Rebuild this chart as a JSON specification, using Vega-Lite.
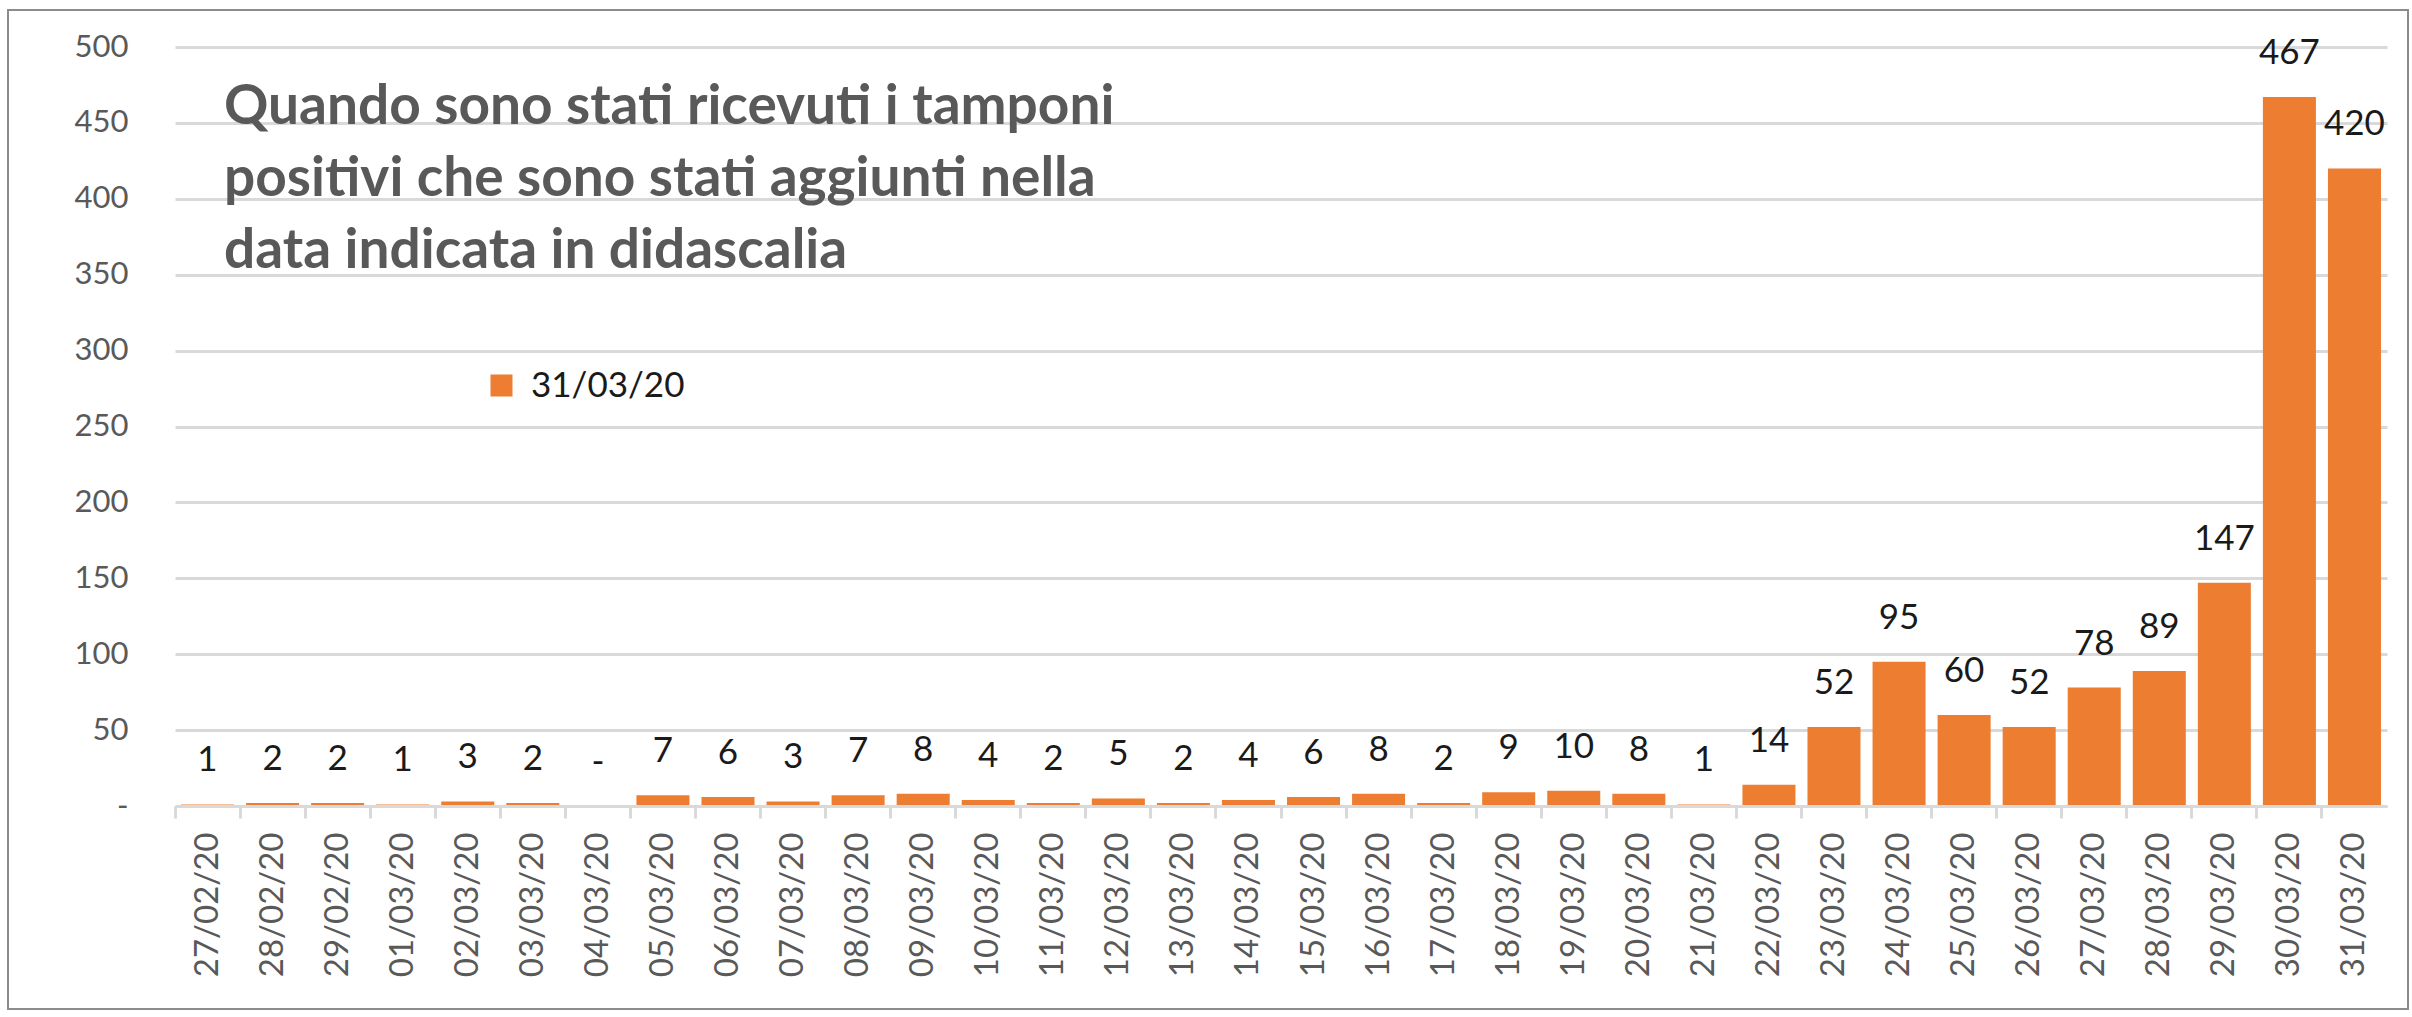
{
  "$schema": "https://vega.github.io/schema/vega-lite/v6.json",
  "width": 2400,
  "height": 999,
  "autosize": {"type": "none"},
  "padding": {"left": 8, "top": 10, "right": 4, "bottom": 8},
  "background": "white",
  "title": {
    "text": ["Quando sono stati ricevuti i tamponi", "positivi che sono stati aggiunti nella", "data indicata in didascalia"],
    "anchor": "start",
    "frame": "group",
    "orient": "top",
    "offset": 0,
    "baseline": "top",
    "dx": 216,
    "dy": 270,
    "font": "Lato",
    "fontWeight": "bold",
    "fontSize": 55,
    "lineHeight": 72,
    "color": "#595959"
  },
  "config": {
    "view": {"stroke": "#8c8c8c", "strokeWidth": 2},
    "font": "Lato"
  },
  "data": {
    "values": [
      {"data": "27/02/20", "valore": 1, "serie": "31/03/20"},
      {"data": "28/02/20", "valore": 2, "serie": "31/03/20"},
      {"data": "29/02/20", "valore": 2, "serie": "31/03/20"},
      {"data": "01/03/20", "valore": 1, "serie": "31/03/20"},
      {"data": "02/03/20", "valore": 3, "serie": "31/03/20"},
      {"data": "03/03/20", "valore": 2, "serie": "31/03/20"},
      {"data": "04/03/20", "valore": 0, "serie": "31/03/20"},
      {"data": "05/03/20", "valore": 7, "serie": "31/03/20"},
      {"data": "06/03/20", "valore": 6, "serie": "31/03/20"},
      {"data": "07/03/20", "valore": 3, "serie": "31/03/20"},
      {"data": "08/03/20", "valore": 7, "serie": "31/03/20"},
      {"data": "09/03/20", "valore": 8, "serie": "31/03/20"},
      {"data": "10/03/20", "valore": 4, "serie": "31/03/20"},
      {"data": "11/03/20", "valore": 2, "serie": "31/03/20"},
      {"data": "12/03/20", "valore": 5, "serie": "31/03/20"},
      {"data": "13/03/20", "valore": 2, "serie": "31/03/20"},
      {"data": "14/03/20", "valore": 4, "serie": "31/03/20"},
      {"data": "15/03/20", "valore": 6, "serie": "31/03/20"},
      {"data": "16/03/20", "valore": 8, "serie": "31/03/20"},
      {"data": "17/03/20", "valore": 2, "serie": "31/03/20"},
      {"data": "18/03/20", "valore": 9, "serie": "31/03/20"},
      {"data": "19/03/20", "valore": 10, "serie": "31/03/20"},
      {"data": "20/03/20", "valore": 8, "serie": "31/03/20"},
      {"data": "21/03/20", "valore": 1, "serie": "31/03/20"},
      {"data": "22/03/20", "valore": 14, "serie": "31/03/20"},
      {"data": "23/03/20", "valore": 52, "serie": "31/03/20"},
      {"data": "24/03/20", "valore": 95, "serie": "31/03/20"},
      {"data": "25/03/20", "valore": 60, "serie": "31/03/20"},
      {"data": "26/03/20", "valore": 52, "serie": "31/03/20"},
      {"data": "27/03/20", "valore": 78, "serie": "31/03/20"},
      {"data": "28/03/20", "valore": 89, "serie": "31/03/20"},
      {"data": "29/03/20", "valore": 147, "serie": "31/03/20"},
      {"data": "30/03/20", "valore": 467, "serie": "31/03/20"},
      {"data": "31/03/20", "valore": 420, "serie": "31/03/20"}
    ]
  },
  "encoding": {
    "x": {
      "field": "data",
      "type": "ordinal",
      "sort": null,
      "scale": {"range": [167, 2379], "paddingInner": 0.185, "paddingOuter": 0.0925},
      "axis": {
        "title": null,
        "orient": "bottom",
        "offset": -203,
        "zindex": 1,
        "domainColor": "#d9d9d9",
        "domainWidth": 3,
        "tickColor": "#d9d9d9",
        "tickWidth": 3,
        "tickSize": 12,
        "bandPosition": -0.113,
        "labelAngle": 270,
        "labelAlign": "right",
        "labelBaseline": "middle",
        "labelPadding": 14,
        "labelFont": "Lato",
        "labelFontSize": 33,
        "labelColor": "#595959",
        "grid": false
      }
    },
    "y": {
      "field": "valore",
      "type": "quantitative",
      "scale": {"domain": [0, 500], "range": [796, 37], "nice": false},
      "axis": {
        "title": null,
        "orient": "left",
        "offset": -120,
        "values": [0, 50, 100, 150, 200, 250, 300, 350, 400, 450, 500],
        "labelExpr": "datum.value == 0 ? '-' : datum.label",
        "domain": false,
        "ticks": false,
        "tickSize": 0,
        "labelPadding": 0,
        "labelFont": "Lato",
        "labelFontSize": 31,
        "labelColor": "#595959",
        "grid": true,
        "gridColor": "#d9d9d9",
        "gridWidth": 3,
        "zindex": 0
      }
    }
  },
  "layer": [
    {
      "mark": {"type": "bar"},
      "encoding": {
        "color": {
          "field": "serie",
          "type": "nominal",
          "scale": {"range": ["#ED7D31"]},
          "legend": {
            "title": null,
            "orient": "none",
            "legendX": 476,
            "legendY": 358,
            "padding": 0,
            "symbolType": "square",
            "symbolSize": 484,
            "symbolStrokeWidth": 0,
            "labelFont": "Lato",
            "labelFontSize": 35,
            "labelColor": "#1a1a1a",
            "labelOffset": 12
          }
        }
      }
    },
    {
      "mark": {
        "type": "text",
        "baseline": "middle",
        "align": "center",
        "dy": -44,
        "font": "Lato",
        "fontSize": 35,
        "color": "#1a1a1a",
        "text": {"expr": "datum.valore == 0 ? '-' : format(datum.valore, 'd')"}
      }
    }
  ]
}
